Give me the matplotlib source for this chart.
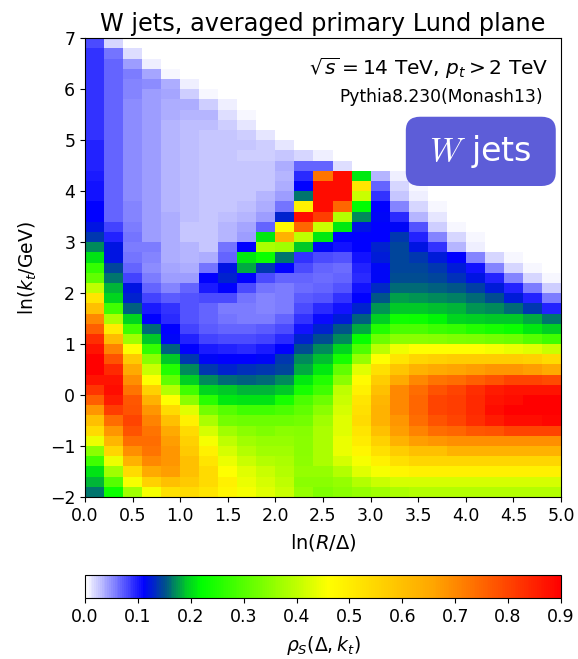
import numpy as np
import matplotlib
matplotlib.use("Agg")
import matplotlib.pyplot as plt
from matplotlib.colors import LinearSegmentedColormap
from matplotlib.patches import FancyBboxPatch

# bin ranges of the Lund plane
x_range = (0.0, 5.0)     # ln(R/Delta)
y_range = (-2.0, 7.0)    # ln(kt/GeV)

# averaged density in units of 0.01, rows from top (ln kt = 7) to bottom (ln kt = -2)
rho_rows = [
    [8, 2, 0, 0, 0, 0, 0, 0, 0, 0, 0, 0, 0, 0, 0, 0, 0, 0, 0, 0, 0, 0, 0, 0, 0],
    [9, 6, 1.5, 0, 0, 0, 0, 0, 0, 0, 0, 0, 0, 0, 0, 0, 0, 0, 0, 0, 0, 0, 0, 0, 0],
    [9, 7, 4.5, 0.9, 0, 0, 0, 0, 0, 0, 0, 0, 0, 0, 0, 0, 0, 0, 0, 0, 0, 0, 0, 0, 0],
    [9, 7, 5.8, 4.1, 0.4, 0, 0, 0, 0, 0, 0, 0, 0, 0, 0, 0, 0, 0, 0, 0, 0, 0, 0, 0, 0],
    [9, 7, 5.4, 5, 3.7, 0.9, 0, 0, 0, 0, 0, 0, 0, 0, 0, 0, 0, 0, 0, 0, 0, 0, 0, 0, 0],
    [9, 7, 5.4, 4.5, 4.1, 2.4, 0.6, 0, 0, 0, 0, 0, 0, 0, 0, 0, 0, 0, 0, 0, 0, 0, 0, 0, 0],
    [9, 7, 5.2, 4.5, 3.8, 3.7, 2.4, 0.9, 0, 0, 0, 0, 0, 0, 0, 0, 0, 0, 0, 0, 0, 0, 0, 0, 0],
    [9, 7, 5.2, 4.4, 3.6, 3.2, 3.4, 1.5, 0.4, 0, 0, 0, 0, 0, 0, 0, 0, 0, 0, 0, 0, 0, 0, 0, 0],
    [9, 7, 5.2, 4.4, 3.5, 3.0, 3.0, 2.4, 1.1, 0, 0, 0, 0, 0, 0, 0, 0, 0, 0, 0, 0, 0, 0, 0, 0],
    [9, 7, 5.2, 4.4, 3.5, 3.0, 2.8, 2.8, 2.4, 1.1, 0, 0, 0, 0, 0, 0, 0, 0, 0, 0, 0, 0, 0, 0, 0],
    [9.5, 7, 5.2, 4.4, 3.5, 3.0, 2.8, 2.8, 2.7, 2.4, 1.1, 0, 0, 0, 0, 0, 0, 0, 0, 0, 0, 0, 0, 0, 0],
    [9.5, 7, 5.2, 4.4, 3.5, 3.0, 2.8, 2.6, 2.4, 2.2, 2.8, 2.0, 1.0, 0, 0, 0, 0, 0, 0, 0, 0, 0, 0, 0, 0],
    [9.5, 7, 5.2, 4.4, 3.5, 3.0, 2.8, 2.8, 2.8, 2.8, 3.7, 7, 6.7, 1.5, 0, 0, 0, 0, 0, 0, 0, 0, 0, 0, 0],
    [10, 7, 5.2, 4.4, 3.5, 3.0, 2.8, 2.8, 2.8, 2.8, 3.4, 9.3, 73, 88, 21, 3.2, 0.9, 0, 0, 0, 0, 0, 0, 0, 0],
    [10.5, 7, 5.2, 4.4, 3.5, 3.0, 2.8, 2.8, 2.8, 2.8, 3.7, 11, 88, 88, 52, 6.7, 1.9, 0.4, 0, 0, 0, 0, 0, 0, 0],
    [10.5, 7, 5.2, 4.4, 3.5, 3.0, 2.8, 2.8, 2.8, 3.2, 4.5, 16.5, 88, 88, 41, 8.8, 2.8, 0.9, 0, 0, 0, 0, 0, 0, 0],
    [11, 7, 5.4, 4.5, 3.5, 3.0, 2.8, 2.8, 3.0, 3.7, 6.3, 49, 88, 75, 22, 11, 5.4, 1.9, 0.6, 0, 0, 0, 0, 0, 0],
    [11, 7, 5.6, 4.5, 3.6, 3.0, 2.8, 3.0, 3.2, 4.5, 13, 88, 81, 39, 17, 11.5, 9.3, 3.2, 1.1, 0, 0, 0, 0, 0, 0],
    [12, 8.4, 5.8, 4.5, 3.6, 2.8, 2.8, 3.2, 4.1, 6.7, 47, 75, 41, 21, 12, 11, 11.5, 7.5, 2.4, 0.4, 0, 0, 0, 0, 0],
    [14, 9.7, 6.3, 4.5, 3.6, 2.8, 2.8, 3.2, 4.5, 21, 63, 40, 21, 11, 11, 11, 14, 9.7, 5.4, 1.9, 0.4, 0, 0, 0, 0],
    [17, 12, 5.8, 5.8, 3.7, 3.2, 2.8, 6.3, 11, 38, 37, 19, 11.5, 10.5, 11, 13, 14.5, 12, 9, 3.5, 1, 0, 0, 0, 0],
    [20.5, 12, 6.3, 5.4, 3.7, 3.2, 3.7, 6.7, 21, 23, 16.5, 9, 8, 7.5, 10.5, 12.5, 14.5, 14, 12.5, 11, 5.5, 2, 0.7, 0, 0],
    [27, 14.5, 6.7, 5, 4.1, 3.7, 6.3, 12, 18, 14, 11, 7.8, 7, 6.5, 9.5, 11.5, 14.5, 14.5, 13.8, 12.5, 10.5, 5.4, 1.9, 0.6, 0],
    [31, 16.5, 8.4, 5.8, 4.5, 4.5, 11, 13, 11, 8, 7, 7, 6.5, 6.7, 9.3, 11.5, 15, 15, 14.5, 13.7, 12, 9.5, 5.4, 1.9, 0.4],
    [40, 18.5, 12, 6.7, 5.4, 6.7, 10, 11, 8, 6.3, 5.8, 6.5, 6.7, 7.7, 10.3, 13.2, 16, 16, 15.6, 15.2, 14.2, 12.5, 9.7, 5.8, 2.4],
    [52, 20, 13, 8.4, 7.1, 7.5, 8, 8, 6.3, 5.4, 5.8, 7.3, 7.6, 8.9, 11, 15.2, 17.6, 17.4, 17, 16.7, 16, 14.8, 12.5, 9.7, 5.8],
    [60, 28, 15.5, 10, 8.8, 7.5, 6.7, 5.8, 5.8, 5.4, 5.8, 8, 9.4, 10.5, 12.8, 17.5, 19.3, 19, 18.8, 18.3, 17.5, 17, 16, 14, 9.7],
    [70, 38, 20, 11, 9.3, 7.5, 6.7, 6.3, 5.8, 5.8, 6.7, 9, 10.8, 12.5, 15.5, 19.5, 23.5, 23, 21.5, 20, 19.5, 19, 19, 18, 16.5],
    [76, 50, 28, 16, 11, 8.4, 7.1, 6.7, 6.7, 7.1, 8, 10.5, 12.8, 15.3, 18, 25, 29, 29, 27.5, 26.8, 25, 24, 23, 21, 19.5],
    [83, 61, 37, 19, 11.5, 9.7, 8.4, 8, 8, 8.4, 9.3, 13, 14.8, 17.2, 22.5, 32, 35, 35, 34.5, 34, 33.5, 33, 32, 30, 28],
    [87, 71, 46, 27, 15.5, 11, 10, 9.7, 9.3, 10, 11, 15, 17, 19.8, 29.5, 39.5, 44.5, 46, 46, 46, 46, 45, 44, 43, 41],
    [90, 78, 58, 35, 19, 14, 11.5, 11, 11, 11.5, 14, 17, 18.7, 24, 36, 46, 52, 55, 56, 57, 57, 57, 57, 56, 54],
    [90, 84, 65, 41, 25, 17, 14, 13, 13.5, 14, 14.5, 18, 21, 31, 43, 53, 59, 63, 65, 66, 67, 68, 68, 67, 65],
    [87, 87, 69, 46, 31, 19.5, 17, 16, 15.5, 16, 17, 21, 25, 35, 47, 57, 65, 70, 73, 74, 76, 78, 80, 80, 79],
    [82, 88, 73, 56, 39, 28, 20, 19, 18.5, 18.5, 19, 24, 28, 40, 49, 60, 70, 74, 78, 80, 83, 86, 87, 87, 87],
    [76, 86, 77, 63, 46, 35, 26, 21, 20.5, 20.5, 24, 29, 32, 41, 52, 62, 70, 75, 80, 81, 84, 87, 88, 90, 90],
    [68, 81, 78, 68, 54, 43, 33, 30, 28, 28, 29, 31, 35, 42, 53, 63, 70, 75, 80, 81, 84, 88, 90, 90, 90],
    [60, 74, 80, 71, 60, 49, 38, 33, 32, 32, 32, 33, 37, 43, 54, 63, 68, 74, 78, 80, 83, 86, 88, 88, 89],
    [54, 68, 78, 73, 65, 54, 42, 37, 35, 34, 35, 34.5, 38, 43, 52, 60, 67, 71, 74, 75, 77, 78, 80, 80, 80],
    [44, 62, 74, 74, 67, 56, 45, 40, 37, 36, 36, 35, 38, 44, 50, 56, 63, 67, 68, 69, 69, 69, 69, 69, 69],
    [35, 55, 69, 73, 68, 58, 49, 42, 39, 37, 37, 35, 38, 44, 48, 53, 57, 60, 60, 63, 63, 63, 63, 63, 63],
    [28, 44, 63, 70, 68, 60, 52, 44, 41, 39, 38, 35.5, 38, 42, 45, 49, 53, 55, 55, 55, 55, 55, 55, 55, 55],
    [20.5, 37, 54, 65, 67, 60, 54, 46, 43, 41, 39, 36, 36, 39, 43, 45, 48, 49, 49, 49, 49, 49, 49, 49, 49],
    [18.5, 30, 45, 56, 60, 58, 54, 49, 44, 42, 40, 35, 35, 36, 39, 41, 42, 42, 42, 42, 42, 42, 42, 42, 42],
    [16.5, 23, 37, 45, 53, 54, 52, 48, 45, 43, 41, 36, 34, 35, 36, 37, 38, 39, 39, 39, 39, 39, 39, 39, 39],
]

rho = np.array(rho_rows, dtype=float)[::-1] / 100.0
n_y, n_x = rho.shape
x_edges = np.linspace(x_range[0], x_range[1], n_x + 1)
y_edges = np.linspace(y_range[0], y_range[1], n_y + 1)

# white -> blue -> green -> yellow -> orange -> red, on 0..0.9
vmax = 0.9
stops = [
    (0.00, (1.0, 1.0, 1.0)),
    (0.11, (0.0, 0.0, 1.0)),
    (0.15, (0.0, 80 / 255, 140 / 255)),
    (0.19, (0.0, 200 / 255, 40 / 255)),
    (0.22, (0.0, 1.0, 0.0)),
    (0.46, (1.0, 1.0, 0.0)),
    (0.66, (1.0, 165 / 255, 0.0)),
    (0.90, (1.0, 0.0, 0.0)),
]
cmap = LinearSegmentedColormap.from_list("lund", [(v / vmax, c) for v, c in stops])

fig = plt.figure(figsize=(5.78, 6.59), dpi=100)
ax = fig.add_axes([0.147, 0.2458, 0.8236, 0.6961])
mesh = ax.pcolormesh(x_edges, y_edges, rho, cmap=cmap, vmin=0, vmax=vmax)
ax.set_xlim(x_range)
ax.set_ylim(y_range)
ax.set_xticks(np.arange(0, 5.01, 0.5))
ax.set_yticks(np.arange(-2, 7.01, 1))
ax.tick_params(labelsize=12.5)
ax.set_xlabel(r'$\ln(R/\Delta)$', fontsize=14, labelpad=5)
ax.set_ylabel(r'$\ln(k_t/\mathrm{GeV})$', fontsize=13.5, labelpad=8)
ax.set_title('W jets, averaged primary Lund plane', fontsize=17.3, pad=5)

ax.text(0.973, 0.935, r'$\sqrt{s}=14$ TeV, $p_t>2$ TeV', transform=ax.transAxes,
        ha='right', va='center', fontsize=14.5)
ax.text(0.962, 0.872, 'Pythia8.230(Monash13)', transform=ax.transAxes,
        ha='right', va='center', fontsize=12.3)

box = FancyBboxPatch((0.674, 0.678), 0.315, 0.151, transform=ax.transAxes,
                     boxstyle='round,pad=0,rounding_size=0.03',
                     facecolor='#5d5dd8', edgecolor='none', zorder=5)
ax.add_patch(box)
ax.text(0.8315, 0.7535, r'$W$ jets', transform=ax.transAxes, ha='center', va='center',
        fontsize=24, color='white', math_fontfamily='cm', zorder=6)

cax = fig.add_axes([0.147, 0.0926, 0.8236, 0.0349])
cb = fig.colorbar(mesh, cax=cax, orientation='horizontal')
cb.set_ticks(np.arange(0, 0.91, 0.1))
cb.ax.tick_params(labelsize=12.5)
cb.set_label(r'$\rho_S(\Delta,k_t)$', fontsize=13.5, labelpad=6)

fig.savefig('out.png', dpi=100)
